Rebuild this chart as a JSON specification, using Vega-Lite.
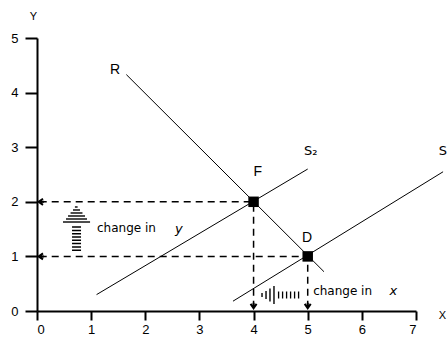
{
  "$schema": "https://vega.github.io/schema/vega-lite/v6.json",
  "width": 379,
  "height": 273,
  "autosize": {"type": "none"},
  "padding": {"left": 37, "top": 38, "right": 32, "bottom": 26},
  "background": "white",
  "config": {
    "view": {"stroke": null},
    "font": "Liberation Sans",
    "axis": {
      "domainColor": "black", "domainWidth": 2, "tickColor": "black", "tickWidth": 2,
      "labelColor": "black", "labelFont": "Liberation Sans", "labelFontSize": 13,
      "grid": false, "titleColor": "black", "titleFont": "Liberation Sans",
      "titleFontSize": 11, "titleFontWeight": "normal", "titleAngle": 0,
      "titleAlign": "center", "titleBaseline": "middle"
    }
  },
  "datasets": {
    "lines": [
      {"series": "R", "x": 1.65, "y": 4.33}, {"series": "R", "x": 5.3, "y": 0.72},
      {"series": "S2", "x": 1.1, "y": 0.3}, {"series": "S2", "x": 5.0, "y": 2.6},
      {"series": "S", "x": 3.62, "y": 0.18}, {"series": "S", "x": 7.5, "y": 2.55}
    ],
    "guides": [
      {"x": 0.05, "y": 2, "x2": 4, "y2": 2},
      {"x": 0.05, "y": 1, "x2": 5, "y2": 1},
      {"x": 4, "y": 0.06, "x2": 4, "y2": 2},
      {"x": 5, "y": 0.06, "x2": 5, "y2": 1}
    ],
    "leftArrows": [{"x": 0.03, "y": 2}, {"x": 0.03, "y": 1}],
    "downArrows": [{"x": 4, "y": 0.05}, {"x": 5, "y": 0.05}],
    "points": [{"name": "F", "x": 4, "y": 2}, {"name": "D", "x": 5, "y": 1}],
    "pointLabels": [
      {"label": "R", "x": 1.44, "y": 4.42},
      {"label": "F", "x": 4.08, "y": 2.55},
      {"label": "D", "x": 4.99, "y": 1.34}
    ],
    "supplyLabels": [
      {"label": "S₂", "x": 4.93, "y": 2.93},
      {"label": "S", "x": 7.42, "y": 2.93}
    ],
    "changeText": [
      {"label": "change in", "x": 1.108, "y": 1.52},
      {"label": "change in", "x": 5.1, "y": 0.366}
    ],
    "varText": [
      {"label": "y", "x": 2.62, "y": 1.5},
      {"label": "x", "x": 6.58, "y": 0.36}
    ],
    "stemY": [{"x": 0.73, "y": 1.1, "y2": 1.575}],
    "stemX": [{"x": 4.45, "x2": 4.876, "y": 0.293}],
    "hatch": [
      {"x": 0.7, "x2": 0.75, "y": 1.905, "y2": 1.905},
      {"x": 0.665, "x2": 0.794, "y": 1.85, "y2": 1.85},
      {"x": 0.62, "x2": 0.84, "y": 1.795, "y2": 1.795},
      {"x": 0.573, "x2": 0.887, "y": 1.74, "y2": 1.74},
      {"x": 0.536, "x2": 0.924, "y": 1.685, "y2": 1.685},
      {"x": 0.48, "x2": 0.98, "y": 1.63, "y2": 1.63},
      {"x": 4.156, "x2": 4.156, "y": 0.256, "y2": 0.33},
      {"x": 4.23, "x2": 4.23, "y": 0.22, "y2": 0.366},
      {"x": 4.303, "x2": 4.303, "y": 0.174, "y2": 0.412},
      {"x": 4.377, "x2": 4.377, "y": 0.128, "y2": 0.458}
    ]
  },
  "layer": [
    {
      "data": {"name": "lines"},
      "mark": {"type": "line", "color": "black", "strokeWidth": 1},
      "encoding": {
        "x": {"field": "x", "type": "quantitative",
              "scale": {"domain": [0, 7], "nice": false, "zero": false},
              "axis": {"values": [0, 1, 2, 3, 4, 5, 6, 7], "format": "d", "tickSize": 9, "labelPadding": 3,
                       "title": "X", "titleX": 405, "titleY": 4}},
        "y": {"field": "y", "type": "quantitative",
              "scale": {"domain": [0, 5], "nice": false, "zero": false},
              "axis": {"values": [0, 1, 2, 3, 4, 5], "format": "d", "tickSize": 12, "labelPadding": 7,
                       "title": "Y", "titleX": -4, "titleY": -22}},
        "detail": {"field": "series"}
      }
    },
    {
      "data": {"name": "guides"},
      "mark": {"type": "rule", "color": "black", "strokeWidth": 1.5, "strokeDash": [7, 5]},
      "encoding": {
        "x": {"field": "x", "type": "quantitative"},
        "y": {"field": "y", "type": "quantitative"},
        "x2": {"field": "x2"},
        "y2": {"field": "y2"}
      }
    },
    {
      "data": {"name": "leftArrows"},
      "mark": {"type": "point", "shape": "M1.6,-1.1L0,0L1.6,1.1M0,0L2,0", "size": 30,
               "filled": false, "color": "black", "strokeWidth": 2, "opacity": 1},
      "encoding": {
        "x": {"field": "x", "type": "quantitative"},
        "y": {"field": "y", "type": "quantitative"}
      }
    },
    {
      "data": {"name": "downArrows"},
      "mark": {"type": "point", "shape": "M-1.1,-1.6L0,0L1.1,-1.6M0,0L0,-2", "size": 30,
               "filled": false, "color": "black", "strokeWidth": 2, "opacity": 1},
      "encoding": {
        "x": {"field": "x", "type": "quantitative"},
        "y": {"field": "y", "type": "quantitative"}
      }
    },
    {
      "data": {"name": "points"},
      "mark": {"type": "point", "shape": "square", "filled": true, "size": 110,
               "color": "black", "opacity": 1},
      "encoding": {
        "x": {"field": "x", "type": "quantitative"},
        "y": {"field": "y", "type": "quantitative"}
      }
    },
    {
      "data": {"name": "stemY"},
      "mark": {"type": "rule", "color": "black", "strokeWidth": 9, "strokeDash": [1.5, 1.8]},
      "encoding": {
        "x": {"field": "x", "type": "quantitative"},
        "y": {"field": "y", "type": "quantitative"},
        "y2": {"field": "y2"}
      }
    },
    {
      "data": {"name": "stemX"},
      "mark": {"type": "rule", "color": "black", "strokeWidth": 7, "strokeDash": [1.3, 2.7]},
      "encoding": {
        "x": {"field": "x", "type": "quantitative"},
        "x2": {"field": "x2"},
        "y": {"field": "y", "type": "quantitative"}
      }
    },
    {
      "data": {"name": "hatch"},
      "mark": {"type": "rule", "color": "black", "strokeWidth": 1.4},
      "encoding": {
        "x": {"field": "x", "type": "quantitative"},
        "x2": {"field": "x2"},
        "y": {"field": "y", "type": "quantitative"},
        "y2": {"field": "y2"}
      }
    },
    {
      "data": {"name": "pointLabels"},
      "mark": {"type": "text", "font": "Liberation Sans", "fontSize": 14, "color": "black",
               "align": "center", "baseline": "middle"},
      "encoding": {
        "x": {"field": "x", "type": "quantitative"},
        "y": {"field": "y", "type": "quantitative"},
        "text": {"field": "label"}
      }
    },
    {
      "data": {"name": "supplyLabels"},
      "mark": {"type": "text", "font": "DejaVu Sans", "fontSize": 13, "color": "black",
               "align": "left", "baseline": "middle"},
      "encoding": {
        "x": {"field": "x", "type": "quantitative"},
        "y": {"field": "y", "type": "quantitative"},
        "text": {"field": "label"}
      }
    },
    {
      "data": {"name": "changeText"},
      "mark": {"type": "text", "font": "DejaVu Sans", "fontSize": 12, "color": "black",
               "align": "left", "baseline": "middle"},
      "encoding": {
        "x": {"field": "x", "type": "quantitative"},
        "y": {"field": "y", "type": "quantitative"},
        "text": {"field": "label"}
      }
    },
    {
      "data": {"name": "varText"},
      "mark": {"type": "text", "font": "DejaVu Sans", "fontSize": 13, "fontStyle": "italic",
               "color": "black", "align": "center", "baseline": "middle"},
      "encoding": {
        "x": {"field": "x", "type": "quantitative"},
        "y": {"field": "y", "type": "quantitative"},
        "text": {"field": "label"}
      }
    }
  ]
}
